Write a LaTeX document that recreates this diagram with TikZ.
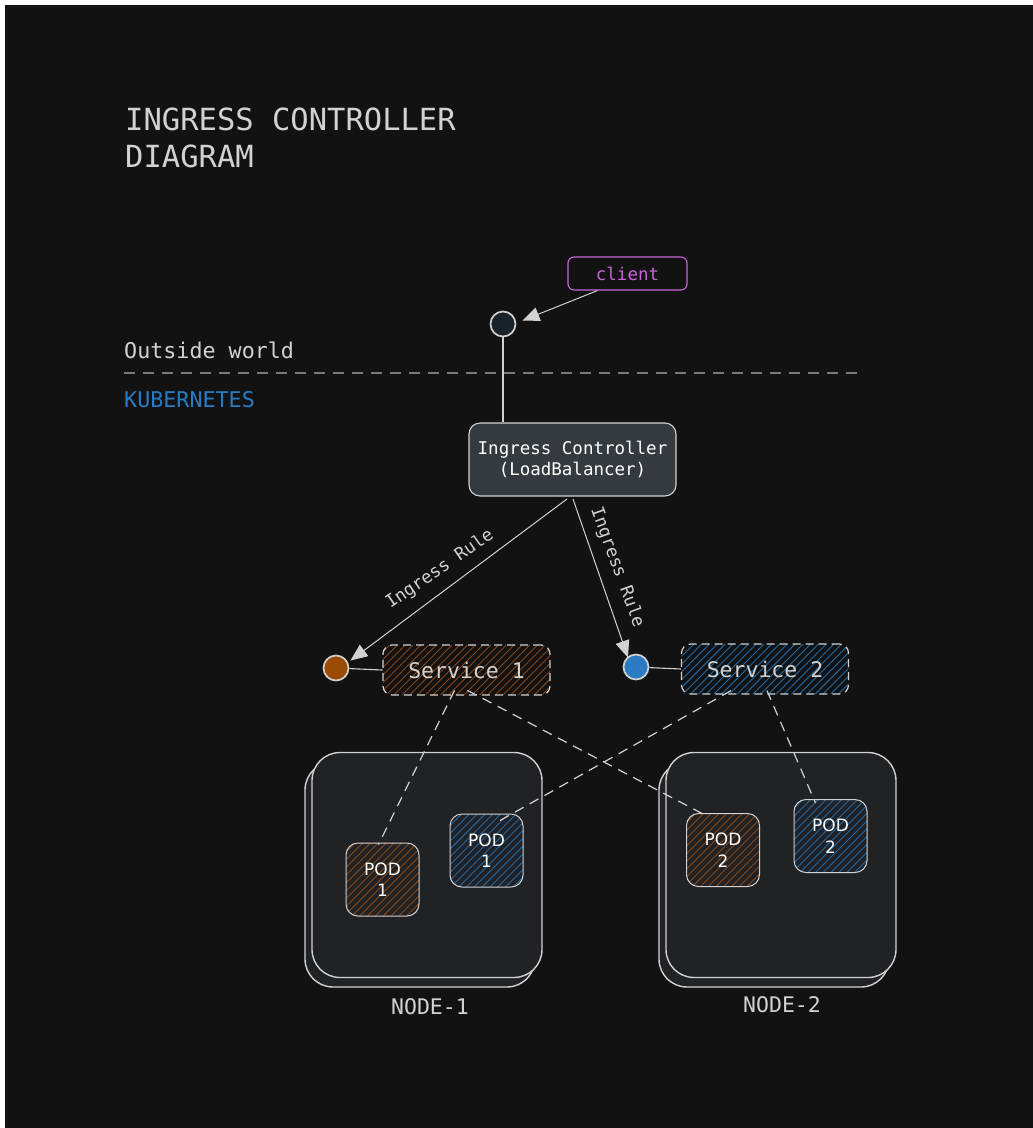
\documentclass[tikz,border=0pt]{standalone}
\usepackage{fontspec}
\setmonofont{DejaVu Sans Mono}
\setsansfont{DejaVu Sans}
\usetikzlibrary{patterns.meta,arrows.meta}
\definecolor{bg}{HTML}{121212}
\definecolor{stroke}{HTML}{D2D2D2}
\definecolor{nodefill}{HTML}{212226}
\definecolor{ingfill}{HTML}{343A40}
\definecolor{entryfill}{HTML}{18232B}
\definecolor{orangeC}{HTML}{9A4A05}
\definecolor{orangeH}{HTML}{8C4612}
\definecolor{blueC}{HTML}{2A7BC2}
\definecolor{blueH}{HTML}{1F6AA8}
\definecolor{violet}{HTML}{C964DC}
\definecolor{kblue}{HTML}{2A7BC2}
\definecolor{dashgray}{HTML}{7A7A7A}
\tikzset{
  endpt/.style={circle,draw=stroke,line width=1.7pt,minimum size=25pt,inner sep=0pt},
  svcbox/.style={draw=stroke,dash pattern=on 8pt off 5pt,line width=1.2pt,rounded corners=9pt,
     minimum width=167pt,minimum height=50pt,inner sep=0pt,text=stroke,
     font=\ttfamily\fontsize{21.5}{24}\selectfont},
  podbox/.style={draw=stroke,line width=1pt,rounded corners=12pt,minimum width=73pt,minimum height=73pt,
     inner sep=0pt,text=white,align=center,font=\sffamily\fontsize{17}{21.5}\selectfont},
  hostbox/.style={draw=stroke,line width=1.4pt,rounded corners=28pt,fill=nodefill,minimum width=230pt,minimum height=225pt,inner sep=0pt},
  conn/.style={draw=stroke,line width=1.1pt},
  arr/.style={draw=stroke,line width=1pt,-{Triangle[length=17pt,width=14pt]}},
  dashconn/.style={draw=stroke,line width=1.2pt,dash pattern=on 10pt off 7pt},
  rulelbl/.style={text=stroke,font=\ttfamily\fontsize{17.5}{20}\selectfont,inner sep=2pt},
  hatchO/.style={preaction={fill=#1},pattern={Lines[angle=45,distance=5.5pt,line width=0.9pt]},pattern color=orangeH},
  hatchB/.style={preaction={fill=#1},pattern={Lines[angle=45,distance=5.5pt,line width=0.9pt]},pattern color=blueH},
}
\begin{document}
\begin{tikzpicture}[x=1pt,y=-1pt]
\useasboundingbox (0,0) rectangle (1033,1128);
\fill[white] (0,0) rectangle (1033,1128);
\fill[bg] (5,5) rectangle (1033,1128);

% title
\node[anchor=base west,text=stroke,font=\ttfamily\fontsize{30.5}{36}\selectfont,inner sep=0pt] (title1) at (125,130) {INGRESS CONTROLLER};
\node[anchor=base west,text=stroke,font=\ttfamily\fontsize{30.5}{36}\selectfont,inner sep=0pt] (title2) at (125,167) {DIAGRAM};

% outside world / kubernetes
\node[anchor=base west,text=stroke,font=\ttfamily\fontsize{21.7}{24}\selectfont,inner sep=0pt] (outside) at (124,358) {Outside world};
\coordinate (dl) at (124,373);
\coordinate (dr) at (862,373);
\draw[dashgray,line width=1.3pt,dash pattern=on 11pt off 8pt] (dl) -- (dr);
\node[anchor=base west,text=kblue,font=\ttfamily\fontsize{21.7}{24}\selectfont,inner sep=0pt] (k8s) at (124,407) {KUBERNETES};

% client
\node[draw=violet,line width=1.1pt,rounded corners=6pt,minimum width=119pt,minimum height=33pt,inner sep=0pt,
  text=violet,font=\ttfamily\fontsize{17.5}{20}\selectfont] (client) at (627.5,273.5) {client};
\node[endpt,fill=entryfill] (entry) at (503,324) {};
\path[arr] ([xshift=-30pt]client.south) -- ([xshift=10pt,yshift=-6pt]entry.north east);

% ingress
\node[draw=stroke,line width=1.1pt,fill=ingfill,rounded corners=11pt,minimum width=207pt,minimum height=73pt,
  inner sep=0pt,align=center,text=white,font=\ttfamily\fontsize{17.5}{21}\selectfont] (ing) at (572.5,459.5)
  {Ingress Controller\\(LoadBalancer)};
\path[conn] (entry) -- (ing.north -| entry);

% services
\node[endpt,fill=orangeC] (c1) at (336,668) {};
\node[svcbox,hatchO=bg] (s1) at (466.5,670) {Service 1};
\node[endpt,fill=blueC] (c2) at (636,667) {};
\node[svcbox,hatchB=bg] (s2) at (765,669) {Service 2};
\path[conn] (c1) -- (s1.west);
\path[conn] (c2) -- (s2.west);

% ingress rules
\coordinate (o1) at (567,499);
\coordinate (o2) at (573,499);
\path[arr] (o1) -- ([xshift=5pt,yshift=-2pt]c1.north east);
\path[arr] (o2) -- ([xshift=-8pt,yshift=-4pt]c2.north);
\node[rulelbl,rotate=34.6,anchor=south] (r1) at (446,578) {Ingress Rule};
\node[rulelbl,rotate=-70,anchor=south] (r2) at (607,571) {Ingress Rule};

% nodes (hosts)
\node[hostbox] (h1b) at (420,874.5) {};
\node[hostbox] (h1) at (427,865) {};
\node[hostbox] (h2b) at (774,874.5) {};
\node[hostbox] (h2) at (781,865) {};
\node[anchor=base,text=stroke,font=\ttfamily\fontsize{21.5}{24}\selectfont,inner sep=0pt] (h1l) at (430,1014) {NODE-1};
\node[anchor=base,text=stroke,font=\ttfamily\fontsize{21.5}{24}\selectfont,inner sep=0pt] (h2l) at (782,1012) {NODE-2};

% pods
\node[podbox,hatchO=nodefill] (p1o) at (382.5,879.5) {POD\\1};
\node[podbox,hatchB=nodefill] (p1b) at (486.5,850.5) {POD\\1};
\node[podbox,hatchO=nodefill] (p2o) at (723,850) {POD\\2};
\node[podbox,hatchB=nodefill] (p2b) at (830.5,836) {POD\\2};

% service-pod links
\path[dashconn] ([xshift=-12pt,yshift=5pt]s1.south) -- ([xshift=-4pt,yshift=-2pt]p1o.north);
\path[dashconn] ([xshift=1pt,yshift=5pt]s1.south) -- ([xshift=-18pt,yshift=-2pt]p2o.north);
\path[dashconn] ([xshift=-34pt,yshift=4pt]s2.south) -- ([xshift=10pt,yshift=-9pt]p1b.north);
\path[dashconn] ([xshift=2pt,yshift=4pt]s2.south) -- ([xshift=-15pt,yshift=-4pt]p2b.north);
\end{tikzpicture}
\end{document}
